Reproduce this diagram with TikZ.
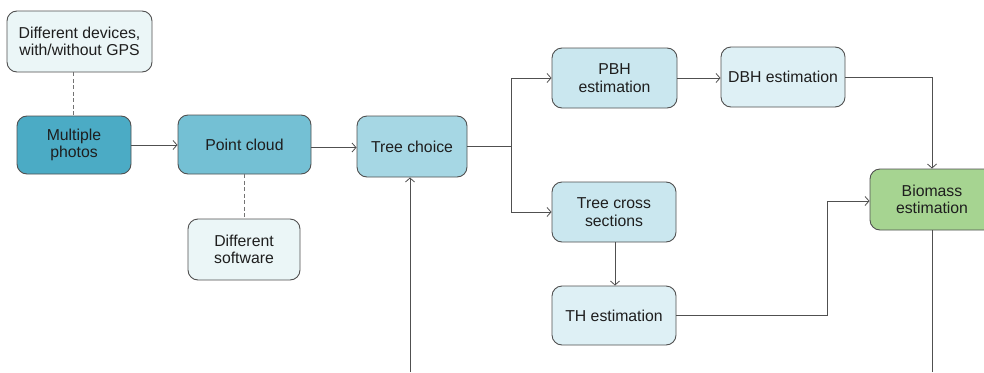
\documentclass[tikz,border=0pt]{standalone}
\usepackage{fontspec}
\setmainfont{Liberation Sans}
\usetikzlibrary{arrows.meta}
\definecolor{cLight}{HTML}{EBF6F7}
\definecolor{cMP}{HTML}{4BABC5}
\definecolor{cPC}{HTML}{74C0D4}
\definecolor{cTC}{HTML}{A6D7E4}
\definecolor{cMid}{HTML}{CAE7EF}
\definecolor{cPale}{HTML}{DEF0F5}
\definecolor{cBio}{HTML}{A6D491}
\definecolor{cLine}{HTML}{505050}
\definecolor{cText}{HTML}{1E1E1E}
\tikzset{
  box/.style={draw=cLine, line width=0.9pt, rounded corners=10pt, align=center,
    font=\fontsize{15.8}{17.5}\selectfont, text=cText, inner sep=0pt},
  conn/.style={draw=cLine, line width=0.8pt, -{Straight Barb[length=4pt,width=9pt]}},
  plain/.style={draw=cLine, line width=0.8pt},
  dash line/.style={draw=cLine!80, line width=0.9pt, dash pattern=on 4pt off 2.5pt},
}
\begin{document}
\begin{tikzpicture}[x=1pt,y=-1pt]
\useasboundingbox (0,0) rectangle (984,372);
\clip (0,0) rectangle (984,372);
\fill[white] (0,0) rectangle (984,372);
\node[box, fill=cLight, minimum width=145pt, minimum height=61pt] (dev) at (79.5,41.5) {Different devices,\\with/without GPS};
\node[box, fill=cMP, minimum width=114pt, minimum height=58pt] (mp) at (74,145) {Multiple\\photos};
\node[box, fill=cPC, minimum width=133pt, minimum height=59pt] (pc) at (244.5,144.5) {Point cloud};
\node[box, fill=cTC, minimum width=110pt, minimum height=61pt] (tc) at (412,146.5) {Tree choice};
\node[box, fill=cLight, minimum width=112pt, minimum height=61pt] (sw) at (244,249.5) {Different\\software};
\node[box, fill=cMid, minimum width=125pt, minimum height=60pt] (pbh) at (614.5,78) {PBH\\estimation};
\node[box, fill=cPale, minimum width=124pt, minimum height=60pt] (dbh) at (783,77) {DBH estimation};
\node[box, fill=cMid, minimum width=124pt, minimum height=60pt] (tcs) at (614,212) {Tree cross\\sections};
\node[box, fill=cPale, minimum width=124pt, minimum height=59pt] (th) at (614,315.5) {TH estimation};
\node[box, fill=cBio, minimum width=124pt, minimum height=61pt] (bio) at (932,199.5) {Biomass\\estimation};
\coordinate (split) at (511,146.5);
\coordinate (bottomTC) at (410,372);
\coordinate (bottomBio) at (932,372);
\coordinate (thturn) at (827,315);
% dashed links
\draw[dash line] (dev.south -| 73,0) -- (mp.north -| 73,0);
\draw[dash line] (pc.south -| 244,0) -- (sw.north -| 244,0);
% arrows
\draw[conn] (mp.east) -- (pc.west |- mp.east);
\draw[conn] (pc.east |- 0,147.5) -- (tc.west |- 0,147.5);
\draw[plain] (tc.east |- split) -- (split);
\draw[conn] (split) |- (pbh.west);
\draw[conn] (split) |- (tcs.west);
\draw[conn] (pbh.east) -- (dbh.west |- pbh.east);
\draw[conn] (dbh.east) -| (bio.north);
\draw[conn] (tcs.south -| 615,0) -- (th.north -| 615,0);
\draw[conn] (th.east |- thturn) -- (thturn) |- (bio.west |- 0,201);
\draw[conn] (bottomTC) -- (tc.south -| bottomTC);
\draw[plain] (bio.south) -- (bottomBio);
\end{tikzpicture}
\end{document}
